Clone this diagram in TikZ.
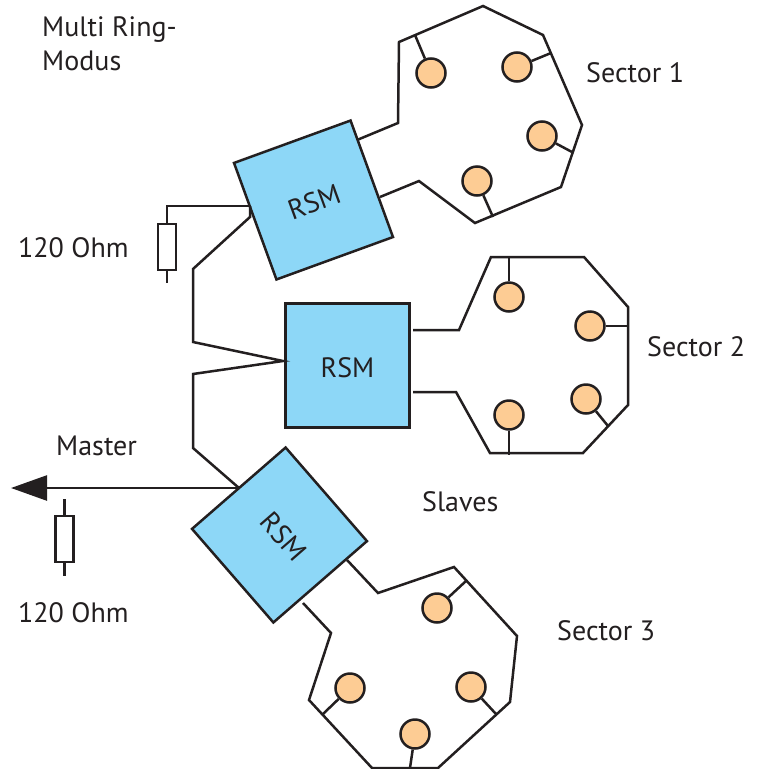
\documentclass[tikz,border=0pt]{standalone}
\usepackage{fontspec}
\setmainfont{PT Sans}
\usepackage{xcolor}
\usepackage{tikz}
\usetikzlibrary{arrows.meta,positioning}
\definecolor{wirecol}{HTML}{231F20}
\definecolor{rsmblue}{HTML}{8DD7F7}
\definecolor{stationorange}{HTML}{FDCC94}
\tikzset{
  wire/.style={draw=wirecol, line width=2.5pt, line join=miter},
  rsm-box/.style={draw=wirecol, fill=rsmblue, line width=2.5pt, minimum size=124pt, inner sep=0pt,
    text=wirecol, font=\fontsize{28}{32}\selectfont, text height=24pt},
  station/.style={circle, draw=wirecol, fill=stationorange, line width=2.5pt, minimum size=29pt, inner sep=0pt},
  resistor/.style={draw=wirecol, fill=white, line width=2.5pt, minimum width=18pt, minimum height=46pt, inner sep=0pt},
  caption/.style={text=wirecol, font=\fontsize{28}{34}\selectfont, inner sep=0pt, align=left}
}
\begin{document}
\begin{tikzpicture}[x=1pt, y=-1pt]
  \useasboundingbox (0,0) rectangle (760,769);

  % RSM boxes
  \node[rsm-box, rotate=20] (rsm1) at (313.5,200) {RSM};
  \node[rsm-box] (rsm2) at (347.5,365.5) {RSM};
  \node[rsm-box, rotate=-49, text height=19.5pt, text depth=4pt] (rsm3) at (279.5,535) {\hspace*{7pt}RSM};

  % Sector rings
  \coordinate (ring1a) at (357,140);
  \coordinate (ring1b) at (380,197);
  \coordinate (ring2a) at (413,330);
  \coordinate (ring2b) at (413,392);
  \coordinate (ring3a) at (347,560);
  \coordinate (ring3b) at (303,603);
  \draw[wire] (ring1a) -- (398,123) -- (399,42) -- (483,6) -- (543,35) -- (582,125) -- (561,187) -- (475,223) -- (419,181) -- (ring1b);
  \draw[wire] (ring2a) -- (459,330) -- (491,257) -- (584,257) -- (628,307) -- (628,405) -- (583,453) -- (490,453) -- (456,392) -- (ring2b);
  \draw[wire] (ring3a) -- (378,593) -- (454,567) -- (517,636) -- (510,702) -- (438,768) -- (372,768) -- (309,700) -- (331,633) -- (ring3b);

  % Stations with their taps
  \foreach \name/\x/\y/\tx/\ty in {
    a1/431/73/415/35, a2/517/67/551/53, a3/542/136/572/152, a4/477/181/493/217,
    b1/509/297/509/257, b2/590/326/628/326, b3/586/399/608/426, b4/509/415/509/455,
    c1/437/608/466/581, c2/350/688/323/714, c3/471/687/496/714, c4/415/734/410/768} {
    \node[station] (\name) at (\x,\y) {};
    \coordinate (\name-tap) at (\tx,\ty);
    \draw[wire] (\name) -- (\name-tap);
  }

  % Master line through the boxes
  \coordinate (term1) at (250,206);
  \coordinate (link1) at (250,217);
  \coordinate (link2) at (283,361);
  \coordinate (link3) at (239,488);
  \coordinate (mastertip) at (11,488);
  \draw[wire] (term1) -- (link1) -- (193,269) -- (193,342) -- (link2) -- (193,374) -- (193,448) -- (link3);
  \draw[wire, -{Triangle[length=36pt,width=25pt]}] (link3) -- (mastertip);

  % Terminating resistors
  \node[resistor] (res1) at (167,247) {};
  \coordinate (res1-end) at (167,283);
  \draw[wire] (res1.north) |- (term1);
  \draw[wire] (res1.south) -- (res1-end);
  \node[resistor] (res2) at (64.5,539) {};
  \coordinate (res2-top) at (64.5,499);
  \coordinate (res2-end) at (64.5,576);
  \draw[wire] (res2.north) -- (res2-top);
  \draw[wire] (res2.south) -- (res2-end);

  % Labels
  \node[caption, anchor=north west] (mode) at (42,16) {Multi Ring-\\Modus};
  \node[caption, anchor=west] (sec1) at (586,73) {Sector 1};
  \node[caption, anchor=west] (sec2) at (647,347) {Sector 2};
  \node[caption, anchor=west] (sec3) at (557,631) {Sector 3};
  \node[caption, anchor=west] (slaves) at (422,502) {Slaves};
  \node[caption, anchor=west] (master) at (56,446) {Master};
  \node[caption, anchor=west] (ohm1) at (18,248) {120 Ohm};
  \node[caption, anchor=west] (ohm2) at (18,613) {120 Ohm};
\end{tikzpicture}
\end{document}
